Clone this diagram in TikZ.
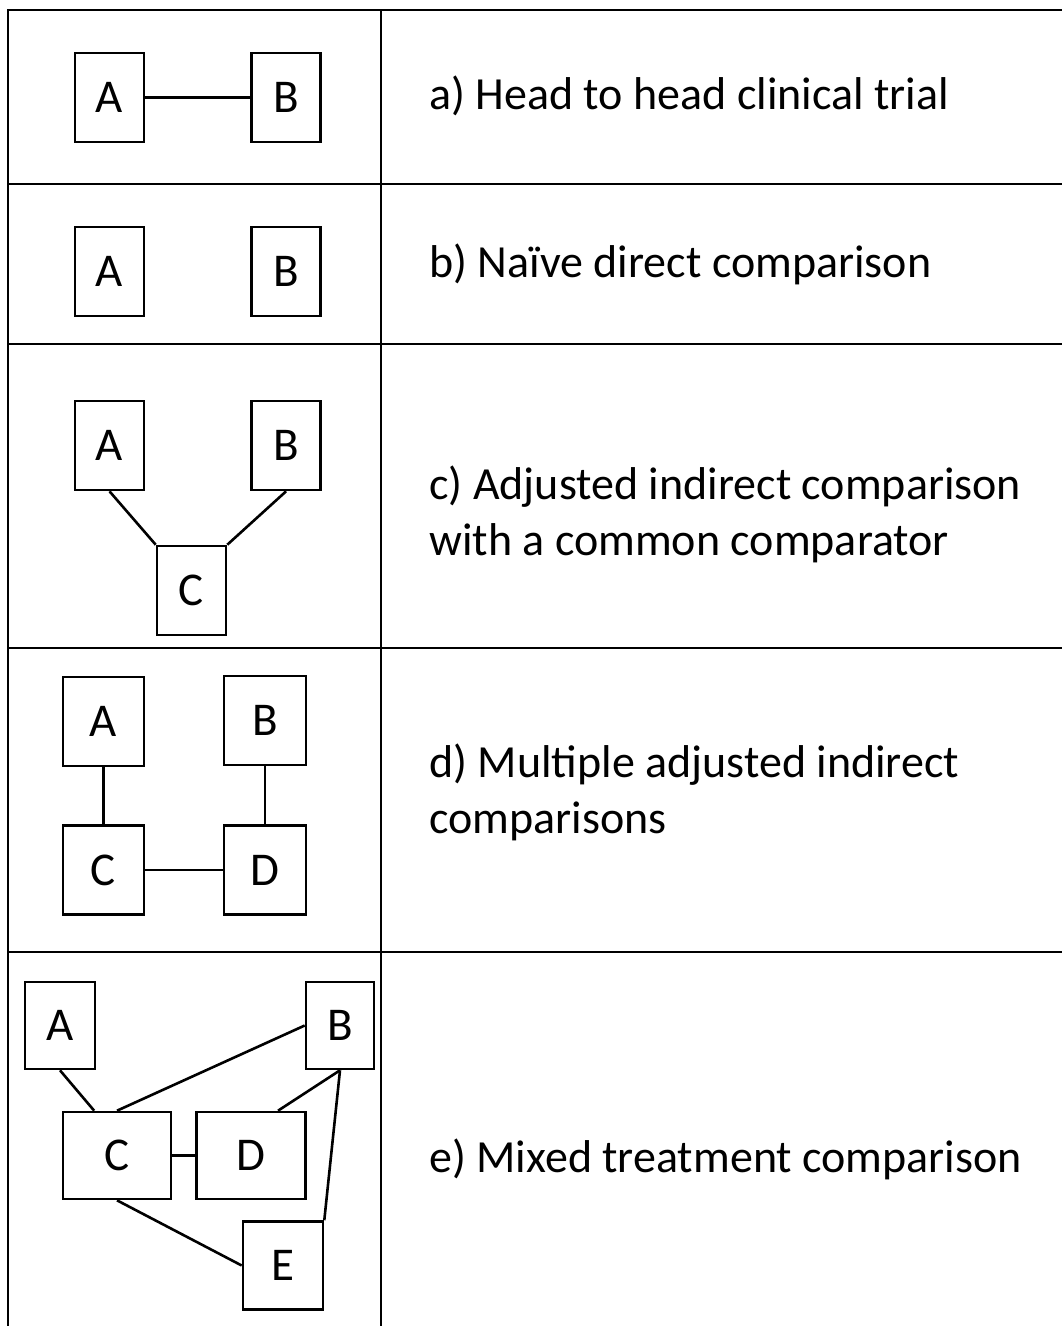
\documentclass[tikz,border=0pt]{standalone}
\usepackage{fontspec}
\setmainfont{Carlito}
\usetikzlibrary{positioning, calc}

\begin{document}
\begin{tikzpicture}[
    x=1pt, y=-1pt,
    line width=2.6pt,
    box/.style={draw, text centered, inner sep=0pt, minimum width=69pt, minimum height=89pt, font=\fontsize{47}{56}\selectfont},
    caption/.style={anchor=base west, inner sep=0pt, align=left, font=\fontsize{46}{56}\selectfont}
]{
    \useasboundingbox (0,0) rectangle (1062,1326);

    % table
    \draw (8,1326) -- (8,10) -- (1062,10);
    \draw (381,10) -- (381,1326);
    \foreach \y in {184, 344, 648, 952} \draw (8,\y) -- (1062,\y);

    % a) head to head
    \node[box](a_a) at (109.5,97.5){A};
    \node[box, right=105pt of a_a](a_b){B};
    \draw(a_a) -- (a_b);
    \node[caption](a_text) at (428,109){a) Head to head clinical trial};

    % b) naive
    \node[box](b_a) at (109.5,271.5){A};
    \node[box, right=105pt of b_a](b_b){B};
    \node[caption](b_text) at (428,277){b) Naïve direct comparison};

    % c) adjusted indirect
    \node[box](c_a) at (109.5,445.5){A};
    \node[box, right=105pt of c_a](c_b){B};
    \node[box](c_c) at (191.5,590.5){C};
    \draw(c_a.south) -- (c_c.north west);
    \draw(c_b.south) -- (c_c.north east);
    \node[caption](c_text) at (428,555){c) Adjusted indirect comparison\\with a common comparator};

    % d) multiple adjusted indirect
    \node[box, minimum width=81pt](d_a) at (103.5,721.5){A};
    \node[box, minimum width=82pt](d_b) at (265,720.5){B};
    \node[box, minimum width=81pt](d_c) at (103.5,870){C};
    \node[box, minimum width=82pt](d_d) at (265,870){D};
    \draw(d_a) -- (d_c);
    \draw(d_b) -- (d_d);
    \draw(d_c) -- (d_d);
    \node[caption](d_text) at (428,833){d) Multiple adjusted indirect\\comparisons};

    % e) mixed treatment
    \node[box, minimum width=70pt, minimum height=87pt](e_a) at (60,1025.5){A};
    \node[box, minimum width=68pt, minimum height=87pt](e_b) at (340,1025.5){B};
    \node[box, minimum width=108pt, minimum height=87pt](e_c) at (117,1155.5){C};
    \node[box, minimum width=109pt, minimum height=87pt, right=23pt of e_c](e_d){D};
    \node[box, minimum width=80pt, minimum height=88pt](e_e) at (283,1265.5){E};
    \draw(e_a.south) -- (e_c.117);
    \draw(e_b.west) -- (e_c.north);
    \draw(e_b.south) -- (e_d.59);
    \draw(e_b.south) -- (e_e.north east);
    \draw(e_c) -- (e_d);
    \draw(e_c.south) -- (e_e.west);
    \node[caption](e_text) at (428,1172){e) Mixed treatment comparison};
}
\end{tikzpicture}
\end{document}
